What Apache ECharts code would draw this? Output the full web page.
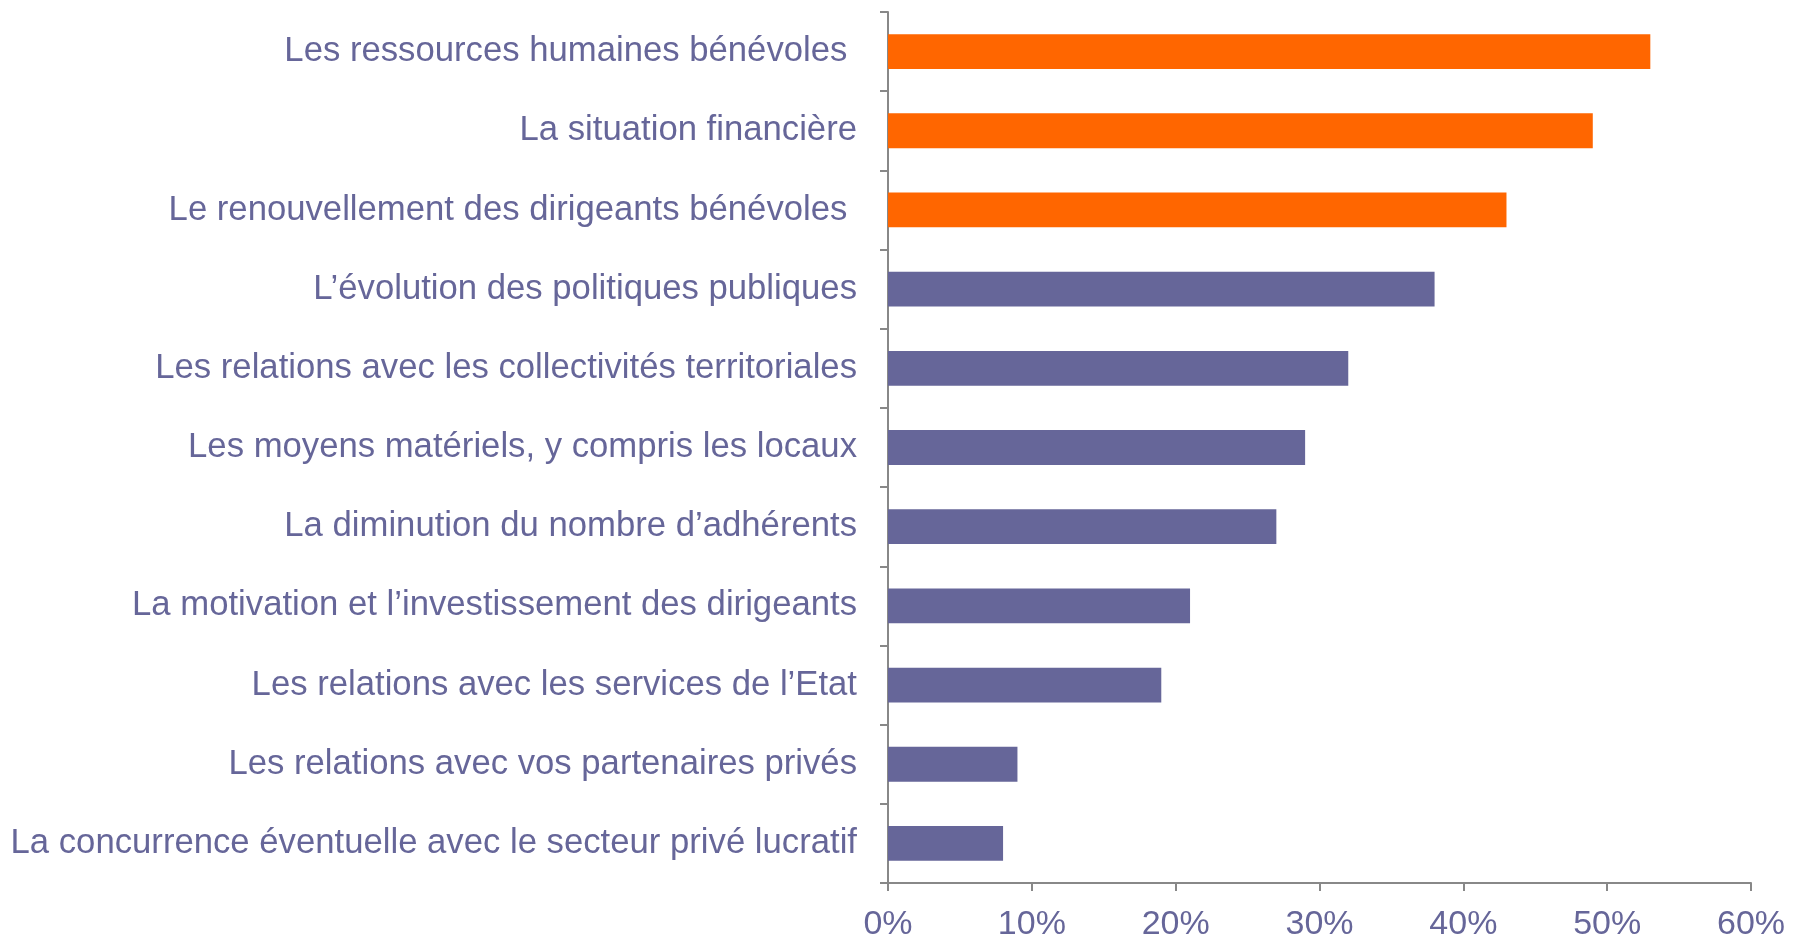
<!DOCTYPE html>
<html>
<head>
<meta charset="utf-8">
<script src="https://cdn.jsdelivr.net/npm/echarts@6/dist/echarts.min.js"></script>
<style>
  html, body { margin: 0; padding: 0; background: #fff; }
  #chart { width: 1793px; height: 942px; }
</style>
</head>
<body>
<div id="chart"></div>
<script>
// categories top -> bottom
var categories = [
    'Les ressources humaines bénévoles ',
    'La situation financière',
    'Le renouvellement des dirigeants bénévoles ',
    'L’évolution des politiques publiques',
    'Les relations avec les collectivités territoriales',
    'Les moyens matériels, y compris les locaux',
    'La diminution du nombre d’adhérents',
    'La motivation et l’investissement des dirigeants',
    'Les relations avec les services de l’Etat',
    'Les relations avec vos partenaires privés',
    'La concurrence éventuelle avec le secteur privé lucratif'
];
var values = [53, 49, 43, 38, 32, 29, 27, 21, 19, 9, 8];
var highlighted = [true, true, true, false, false, false, false, false, false, false, false];

var orange = '#FF6600';
var purple = '#666699';
var textColor = '#666699';
var axisColor = '#888888';

var myChart = echarts.init(document.getElementById('chart'));

var option = {
    animation: false,
    grid: {
        left: 888,
        right: 42,
        top: 12,
        bottom: 57
    },
    xAxis: {
        type: 'value',
        min: 0,
        max: 60,
        interval: 10,
        axisLine: { show: true, lineStyle: { color: axisColor, width: 2 } },
        axisTick: { show: true, length: 8, lineStyle: { color: axisColor, width: 2 } },
        splitLine: { show: false },
        axisLabel: {
            formatter: '{value}%',
            color: textColor,
            fontFamily: 'Liberation Sans',
            fontSize: 34,
            margin: 25
        }
    },
    yAxis: {
        type: 'category',
        inverse: true,
        data: categories,
        axisLine: { show: true, lineStyle: { color: axisColor, width: 2 } },
        axisTick: { show: true, length: 8, lineStyle: { color: axisColor, width: 2 } },
        axisLabel: {
            color: textColor,
            fontFamily: 'Liberation Sans',
            fontSize: 34.7,
            margin: 31
        }
    },
    series: [{
        type: 'bar',
        barCategoryGap: '56%',
        data: values.map(function (v, i) {
            return {
                value: v,
                itemStyle: { color: highlighted[i] ? orange : purple }
            };
        })
    }]
};

myChart.setOption(option);
</script>
</body>
</html>
